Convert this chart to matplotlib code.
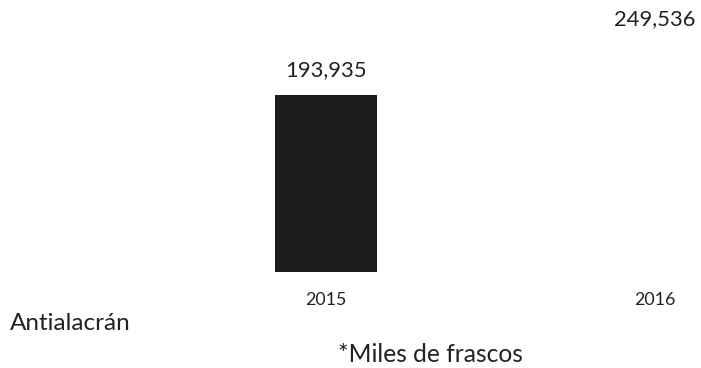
import matplotlib
matplotlib.use("Agg")
import matplotlib.pyplot as plt

years = ["2015", "2016"]
values = [193935, 249536]
bar_colors = ["#1e1b1b", "#ffffff"]
value_labels = ["193,935", "249,536"]

W, H = 701, 368
fig = plt.figure(figsize=(W / 100, H / 100), dpi=100)
fig.patch.set_facecolor("white")

plt.rcParams["font.family"] = ["Lato", "DejaVu Sans"]
text_color = "#222222"

ax = fig.add_axes([0, 96 / H, 1, 272 / H])
x = [0, 1]
bars = ax.bar(x, values, width=0.31, color=bar_colors)
ax.set_xlim(-326 / 329, (W - 326) / 329)
ax.set_ylim(0, 272 / 177 * values[0])

ax.bar_label(bars, labels=value_labels, padding=11, fontsize=15.8, color=text_color)

ax.set_xticks(x)
ax.set_xticklabels(years, fontsize=12.8, color=text_color)
ax.tick_params(axis="x", length=0, pad=14.5)
ax.set_yticks([])
for s in ax.spines.values():
    s.set_visible(False)
ax.patch.set_alpha(0)

fig.text(10 / W, 1 - 324 / H, "Antialacrán", fontsize=17.5, color=text_color,
         ha="left", va="center")
fig.text(430 / W, 1 - 354 / H, "*Miles de frascos", fontsize=17.7, color=text_color,
         ha="center", va="center")

fig.savefig("out.png", dpi=100, facecolor="white")
